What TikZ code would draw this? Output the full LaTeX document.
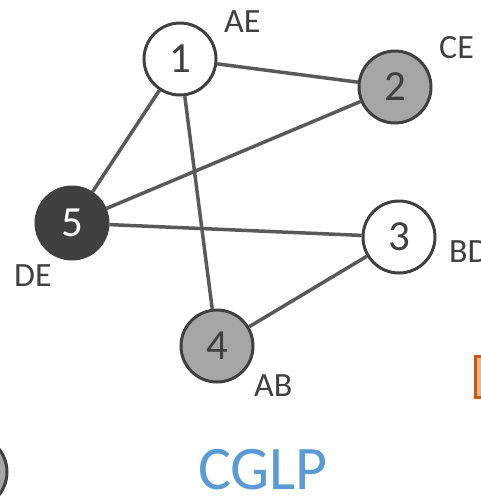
\documentclass[tikz,border=0pt]{standalone}
\usepackage{fontspec}
\setmainfont{Carlito}
\usepackage{tikz}

\definecolor{txtgray}{HTML}{404040}
\definecolor{edgegray}{HTML}{595959}
\definecolor{midgray}{HTML}{A6A6A6}
\definecolor{titleblue}{HTML}{5B9BD5}
\definecolor{lightorange}{HTML}{F4B183}
\definecolor{darkorange}{HTML}{C55A11}

\begin{document}
\begin{tikzpicture}[x=1pt, y=-1pt,
        vertex/.style={circle, draw=txtgray, line width=3pt, minimum size=72pt,
            inner sep=0pt, text=txtgray, font=\fontsize{43}{48}\selectfont},
        tag/.style={text=txtgray, inner sep=0pt, anchor=west, font=\fontsize{34}{40}\selectfont},
        edge/.style={draw=edgegray, line width=3.5pt}]
        \useasboundingbox (0, 0) rectangle (481, 504);
        
        % Knotai
        \node[vertex, fill=white] (v1) at (180, 59) {1};
        \node[vertex, fill=midgray] (v2) at (395, 87) {2};
        \node[vertex, fill=white] (v3) at (399, 237) {3};
        \node[vertex, fill=midgray] (v4) at (217, 346) {4};
        \node[vertex, fill=txtgray, text=white] (v5) at (72, 223) {5};
        
        % Briaunos
        \draw[edge] (v1) -- (v2);
        \draw[edge] (v1) -- (v5);
        \draw[edge] (v1) -- (v4);
        \draw[edge] (v2) -- (v5);
        \draw[edge] (v5) -- (v3);
        \draw[edge] (v3) -- (v4);
        
        % Žymės
        \node[tag] (t1) at (224, 22) {AE};
        \node[tag] (t2) at (439, 48) {CE};
        \node[tag] (t3) at (449, 252) {BD};
        \node[tag] (t4) at (254, 386) {AB};
        \node[tag] (t5) at (14, 276) {DE};
        
        % Pavadinimas
        \node[text=titleblue, inner sep=0pt, font=\fontsize{62}{70}\selectfont] (title) at (263, 470) {CGLP};
        
        % Nukirsti kraštai
        \draw[fill=lightorange, draw=darkorange, line width=3pt] (475, 356) rectangle (520, 397);
        \draw[fill=midgray, draw=txtgray, line width=3pt] (-30, 472) circle (37);
    \end{tikzpicture}
\end{document}
